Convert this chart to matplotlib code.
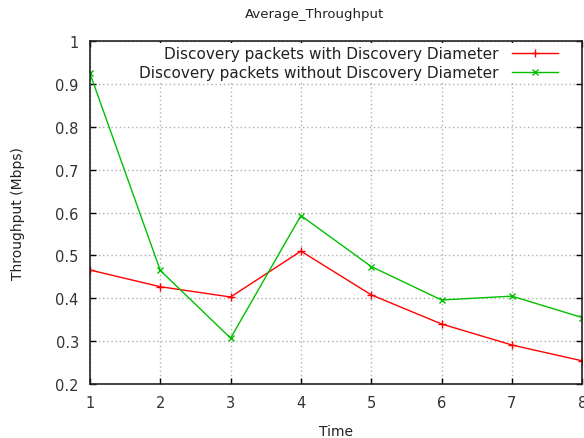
import matplotlib
matplotlib.use('Agg')
import matplotlib.pyplot as plt

# data
time = [1, 2, 3, 4, 5, 6, 7, 8]
with_diameter = [0.466, 0.427, 0.403, 0.510, 0.408, 0.340, 0.291, 0.254]
without_diameter = [0.925, 0.465, 0.307, 0.593, 0.474, 0.396, 0.405, 0.355]
yticks = [0.2, 0.3, 0.4, 0.5, 0.6, 0.7, 0.8, 0.9, 1.0]
ytick_labels = ['0.2', '0.3', '0.4', '0.5', '0.6', '0.7', '0.8', '0.9', '1']

plt.rcParams['font.family'] = 'DejaVu Sans'
plt.rcParams['font.size'] = 10

fig = plt.figure(figsize=(5.84, 4.39), dpi=100)
ax = fig.add_axes([0.154, 0.123, 0.843, 0.781])

ax.plot(time, with_diameter, color='#ff0000', lw=1, marker='+', ms=6, mew=1,
        label='Discovery packets with Discovery Diameter')
ax.plot(time, without_diameter, color='#00c000', lw=1, marker='x', ms=5, mew=1,
        label='Discovery packets without Discovery Diameter')

ax.set_xlim(1, 8)
ax.set_ylim(0.2, 1.0)
ax.set_xticks(time)
ax.set_yticks(yticks)
ax.set_yticklabels(ytick_labels)
ax.tick_params(direction='in', top=True, right=True, length=4, width=1,
               pad=8, labelcolor='#333333', labelsize=10.5)
ax.grid(True, color='#b0b0b0', linestyle=(0, (1, 2)), lw=1)
for s in ax.spines.values():
    s.set_color('#222222')
    s.set_linewidth(1.2)

# gnuplot puts the title a bit left of the axes centre
fig.text(0.538, 0.966, 'Average_Throughput', ha='center', va='center',
         color='#222222', fontsize=9.5)
ax.set_xlabel('Time', color='#222222', labelpad=10)
ax.set_ylabel('Throughput (Mbps)', color='#222222', labelpad=22)

leg = ax.legend(loc='upper right', bbox_to_anchor=(0.965, 1.005), frameon=True,
                fancybox=False, edgecolor='none', framealpha=1, markerfirst=False,
                borderaxespad=0.25, fontsize=11, handlelength=3.0,
                handletextpad=0.9, labelspacing=0.25, borderpad=0.2)
for t in leg.get_texts():
    t.set_ha('right')
    t.set_color('#222222')
leg._legend_box.align = 'right'

fig.savefig('out.png', dpi=100)
